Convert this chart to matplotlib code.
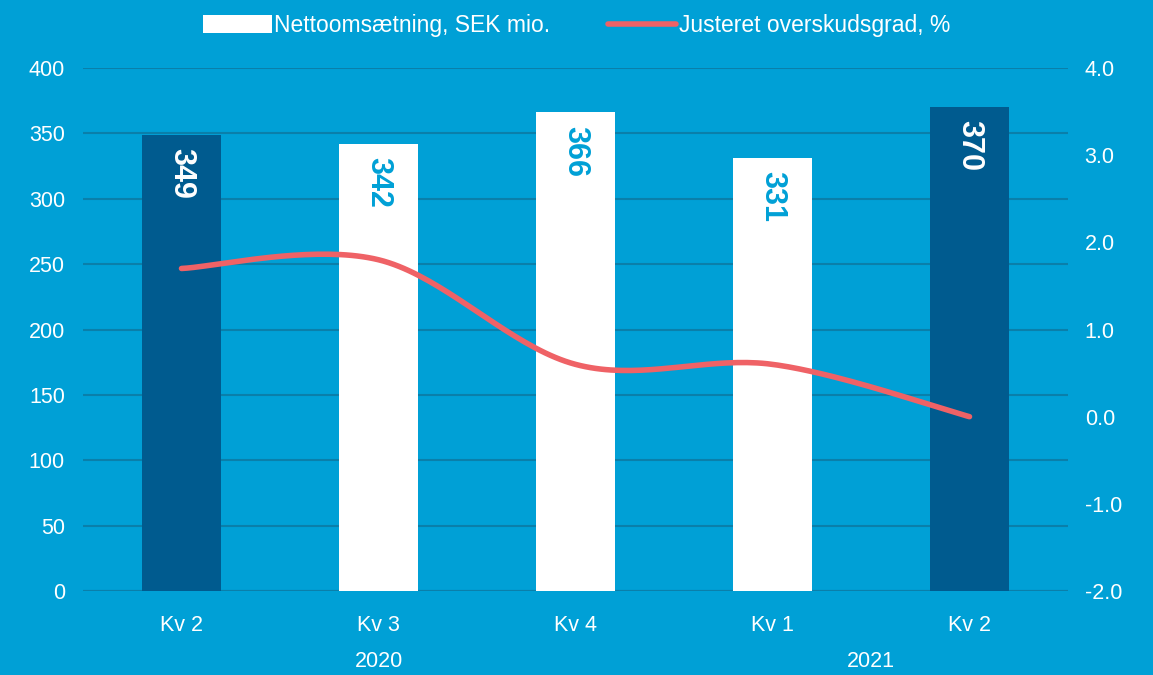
import numpy as np
import matplotlib
matplotlib.use("Agg")
import matplotlib.pyplot as plt
from matplotlib.patches import Patch
from matplotlib.lines import Line2D

plt.rcParams["font.family"] = ["Liberation Sans", "DejaVu Sans"]

quarters = ["Kv 2", "Kv 3", "Kv 4", "Kv 1", "Kv 2"]
years = ["2020", "2021"]
revenue = [349, 342, 366, 331, 370]
margin = [1.7, 1.8, 0.6, 0.6, 0.0]
highlight = [True, False, False, False, True]

BG = "#00A0D6"
DARK = "#005B8F"
GRID = "#0A7FAA"
RED = "#EF6266"
FS = 15.5

fig = plt.figure(figsize=(11.53, 6.75), dpi=100, facecolor=BG)
ax = fig.add_axes([83 / 1153, 1 - 591 / 675, 985 / 1153, 523 / 675])
ax.set_facecolor(BG)
x = np.arange(len(quarters))

colors = [DARK if h else "white" for h in highlight]
ax.bar(x, revenue, width=0.4, color=colors, zorder=2)
for xi, v, h in zip(x, revenue, highlight):
    ax.text(xi, v - 10, str(v), rotation=270, ha="center", va="top",
            fontsize=22, fontweight="bold", color="white" if h else BG, zorder=3)

ax.set_xlim(-0.5, len(quarters) - 0.5)
ax.set_ylim(0, 400)
ax.set_yticks(np.arange(0, 401, 50))
ax.yaxis.grid(True, color=GRID, lw=1.5, zorder=1)
ax.set_axisbelow(True)
for s in ax.spines.values():
    s.set_visible(False)
ax.tick_params(axis="both", length=0, colors="white", labelsize=FS)
ax.tick_params(axis="y", pad=13)
ax.set_xticks(x)
ax.set_xticklabels(quarters)
ax.tick_params(axis="x", pad=17)
ax.axhline(0, color=GRID, lw=1.5, zorder=1)

# year labels
ax.text(1, -0.135, years[0], transform=ax.get_xaxis_transform(), ha="center",
        va="center", color="white", fontsize=FS)
ax.text(3.5, -0.135, years[1], transform=ax.get_xaxis_transform(), ha="center",
        va="center", color="white", fontsize=FS)

# smoothed line (Catmull-Rom style bezier, like Excel)
ax2 = ax.twinx()
ax2.set_ylim(-2, 4)
ax2.set_yticks(np.arange(-2, 4.1, 1))
ax2.set_yticklabels([f"{t:.1f}" for t in np.arange(-2, 4.1, 1)])
ax2.tick_params(axis="y", length=0, colors="white", labelsize=FS, pad=12)
for s in ax2.spines.values():
    s.set_visible(False)

px = np.array(x, dtype=float)
py = np.array(margin, dtype=float)
xs, ys = [], []
n = len(px)
t = np.linspace(0, 1, 40)
for i in range(n - 1):
    p0 = np.array([px[max(i - 1, 0)], py[max(i - 1, 0)]])
    p1 = np.array([px[i], py[i]])
    p2 = np.array([px[i + 1], py[i + 1]])
    p3 = np.array([px[min(i + 2, n - 1)], py[min(i + 2, n - 1)]])
    c1 = p1 + (p2 - p0) / 6
    c2 = p2 - (p3 - p1) / 6
    b = ((1 - t) ** 3)[:, None] * p1 + (3 * (1 - t) ** 2 * t)[:, None] * c1 \
        + (3 * (1 - t) * t ** 2)[:, None] * c2 + (t ** 3)[:, None] * p2
    xs.extend(b[:, 0]); ys.extend(b[:, 1])
ax2.plot(xs, ys, color=RED, lw=4, solid_capstyle="round", zorder=4)

handles = [Patch(facecolor="white", edgecolor="none"),
           Line2D([0], [0], color=RED, lw=4, solid_capstyle="round")]
fig.legend(handles, ["Nettoomsætning, SEK mio.", "Justeret overskudsgrad, %"],
           loc="upper center", bbox_to_anchor=(0.5, 1.01), ncol=2, frameon=False,
           fontsize=16.5, labelcolor="white", handlelength=3.0, handleheight=0.8,
           handletextpad=0.1, columnspacing=2.5)

fig.savefig("out.png", dpi=100, facecolor=BG)
